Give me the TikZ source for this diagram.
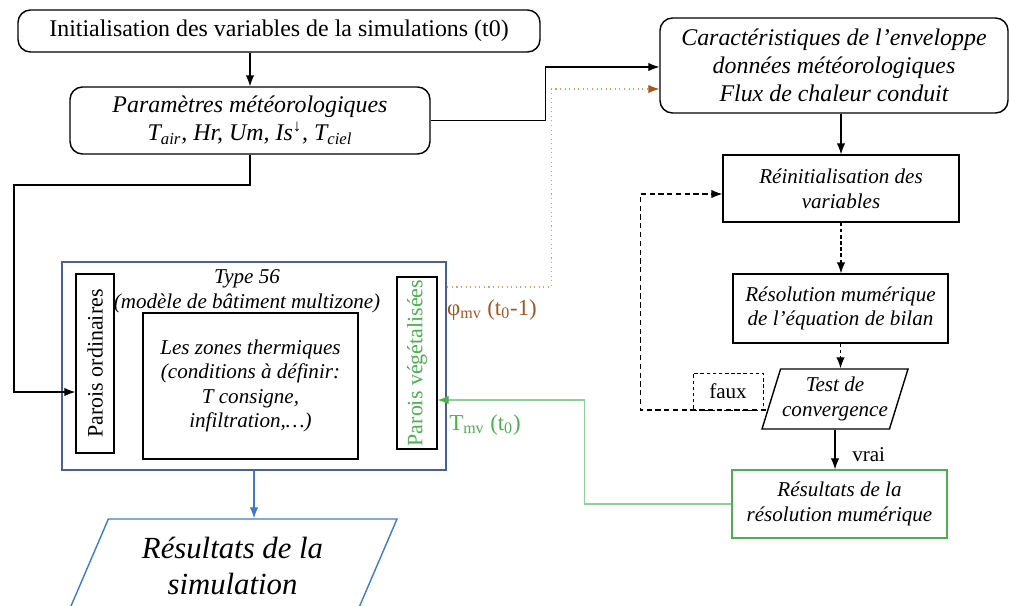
\documentclass[tikz,border=0pt]{standalone}
\usepackage{fontspec}
\setmainfont{Liberation Serif}
\usetikzlibrary{arrows.meta,shapes.geometric}

\definecolor{cadreBleu}{RGB}{68,98,150}
\definecolor{simBleu}{RGB}{58,125,200}
\definecolor{vegVert}{RGB}{76,175,80}
\definecolor{lienVert}{RGB}{140,210,150}
\definecolor{phiBrun}{RGB}{165,85,35}
\definecolor{lienBrun}{RGB}{205,160,120}

\newcommand{\grand}{\fontsize{13.6}{15.8}\selectfont}
\newcommand{\moyen}{\fontsize{12}{14}\selectfont}

\begin{document}
\begin{tikzpicture}[x=0.2mm, y=-0.2mm,
  every node/.style={align=center, inner sep=1pt},
  rbox/.style={draw, line width=0.8pt, rounded corners=2.5mm},
  sbox/.style={draw, line width=0.8pt, font=\moyen\itshape},
  paroi/.style={draw, line width=0.8pt, rotate=90, font=\fontsize{12.5}{14}\selectfont},
  fleche/.style={line width=0.6pt, -{Latex[length=2.2mm,width=1.7mm]}},
  pointille/.style={fleche, dash pattern=on 2pt off 1.5pt},
  boucle/.style={fleche, dash pattern=on 3pt off 2pt}
]
\useasboundingbox (0,0) rectangle (1010,605);

% blocs de gauche
\node[rbox, font=\grand, minimum width=104.4mm, minimum height=8.4mm] (init) at (279,31)
  {Initialisation des variables de la simulations (t0)};
\node[rbox, font=\grand\itshape, minimum width=72mm, minimum height=13.4mm] (meteo) at (250,120.5)
  {Paramètres météorologiques\\T\textsubscript{air}, Hr, Um, Is\textsuperscript{↓}, T\textsubscript{ciel}};

% type 56 et ses parois
\node[draw=cadreBleu, line width=1.5pt, minimum width=76.8mm, minimum height=41.6mm] (type56) at (254,366) {};
\node[font=\moyen\itshape] (titre) at (247,291) {Type 56\\(modèle de bâtiment multizone)};
\node[paroi, minimum width=35.8mm, minimum height=7.6mm] (parord) at (95,363.5) {Parois ordinaires};
\node[paroi, text=vegVert, minimum width=34.4mm, minimum height=8mm] (parveg) at (417,363) {Parois végétalisées};
\node[sbox, minimum width=43mm, minimum height=29.2mm] (zones) at (250.5,386)
  {Les zones thermiques\\(conditions à définir:\\T consigne,\\infiltration,\ldots)};
\node[trapezium, trapezium left angle=57, trapezium right angle=123, trapezium stretches body,
  draw=simBleu, line width=0.8pt, font=\fontsize{17.5}{21}\selectfont\itshape,
  minimum width=65.8mm, minimum height=18.8mm] (ressim) at (232.5,566) {Résultats de la\\simulation};

% blocs de droite
\node[rbox, font=\grand\itshape, minimum width=69.6mm, minimum height=19mm] (enveloppe) at (834,65.5)
  {Caractéristiques de l’enveloppe\\données météorologiques\\Flux de chaleur conduit};
\node[sbox, minimum width=47.2mm, minimum height=13.4mm] (reinit) at (841,188.5) {Réinitialisation des\\variables};
\node[sbox, minimum width=43mm, minimum height=13.8mm] (resol) at (840.5,308.5)
  {Résolution mumérique\\de l’équation de bilan};
\node[trapezium, trapezium left angle=67, trapezium right angle=113, trapezium stretches body,
  draw, line width=0.8pt, inner sep=0pt, font=\moyen\itshape,
  minimum width=29.2mm, minimum height=12mm] (test) at (835,399) {Test de\\convergence};
\node[draw, dash pattern=on 2pt off 1.5pt, font=\moyen, minimum width=14mm, minimum height=7.4mm] (faux) at (728,391.5) {faux};
\node[sbox, draw=vegVert, minimum width=43mm, minimum height=13.6mm] (resnum) at (839.5,504)
  {Résultats de la\\résolution mumérique};

% liaisons
\coordinate (coude) at (14,185);
\draw[fleche] (init.south -| meteo.north) -- (meteo.north);
\draw[fleche] (meteo.east) -- ++(23mm,0) |- ([yshift=-0.3mm]enveloppe.west);
\draw[fleche] (meteo.south) |- (coude) |- ([yshift=-5.7mm]parord.north);
\draw[line width=0.6pt, lienBrun, dotted, -{Latex[length=2.2mm,width=1.7mm,color=phiBrun]}]
  ([yshift=15.8mm]type56.east) -- ++(20.8mm,0) |- ([yshift=-4.7mm]enveloppe.west);
\draw[fleche, lienVert, -{Latex[length=2.2mm,width=1.7mm,color=vegVert]}]
  (resnum.west) -- ++(-29.4mm,0) |- ([yshift=-7.4mm]parveg.south);
\draw[fleche, simBleu] (type56.south) -- (type56.south |- ressim.north);
\draw[fleche] (enveloppe.south -| reinit.north) -- (reinit.north);
\draw[pointille] (reinit.south) -- (reinit.south |- resol.north);
\draw[pointille] (resol.south) -- (resol.south |- test.north);
\draw[fleche] (test.south) -- (test.south |- resnum.north)
  node[midway, right, xshift=3mm, yshift=-1mm, font=\moyen] (vrai) {vrai};
\draw[boucle] ([shift={(-0.9mm,-2.2mm)}]test.west) -- ++(-25.2mm,0) |- ([yshift=-1.1mm]reinit.west);

% etiquettes des echanges
\node[font=\fontsize{13}{15}\selectfont, text=phiBrun] (phimv) at (492,310) {φ\textsubscript{mv} (t\textsubscript{0}-1)};
\node[font=\fontsize{13}{15}\selectfont, text=vegVert] (tmv) at (485,425) {T\textsubscript{mv} (t\textsubscript{0})};
\end{tikzpicture}
\end{document}
